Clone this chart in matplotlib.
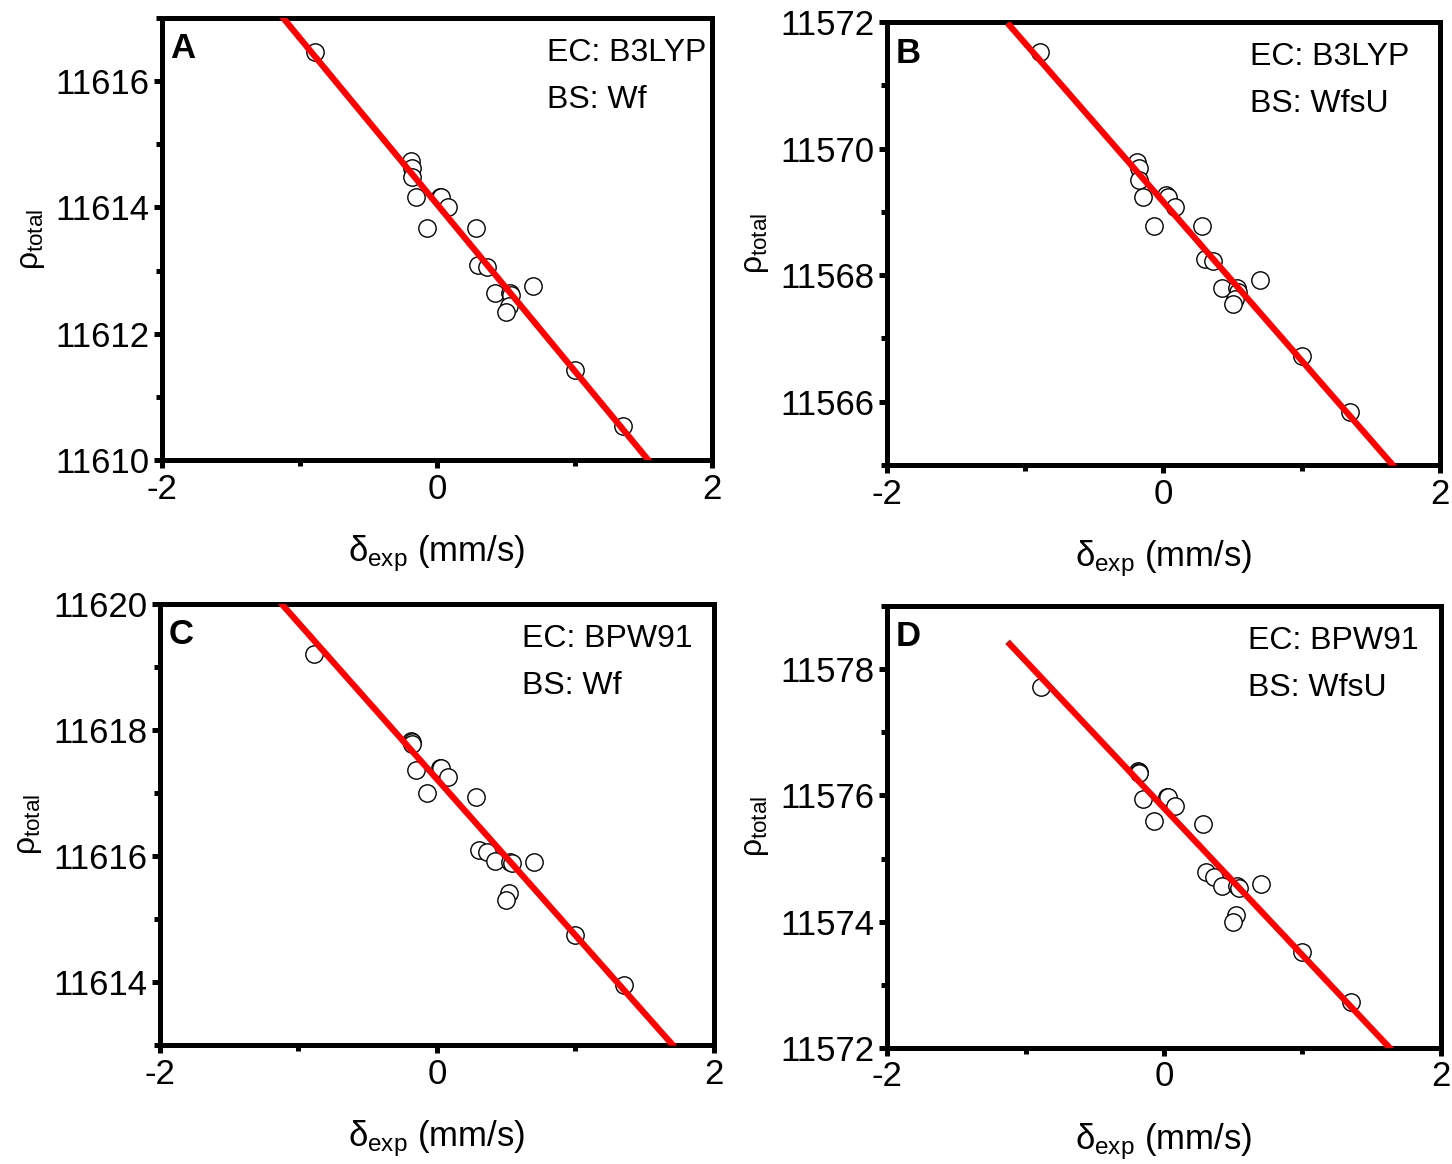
import numpy as np
import matplotlib
matplotlib.use("Agg")
import matplotlib.pyplot as plt
from matplotlib.ticker import MultipleLocator, ScalarFormatter

plt.rcParams['font.family'] = ['Liberation Sans', 'DejaVu Sans']
plt.rcParams['mathtext.fontset'] = 'custom'
plt.rcParams['mathtext.rm'] = 'Liberation Sans'
plt.rcParams['mathtext.it'] = 'Liberation Sans'
plt.rcParams['axes.unicode_minus'] = False

# experimental isomer shifts (mm/s), shared by all four panels
delta_exp = [-0.89, -0.19, -0.18, -0.18, -0.15, 0.02, 0.03, 0.08, -0.07, 0.28,
             0.30, 0.36, 0.42, 0.53, 0.54, 0.70, 0.52, 0.50, 1.00, 1.35]

rho_a = [11616.46, 11614.73, 11614.63, 11614.49, 11614.16, 11614.17, 11614.16,
         11614.01, 11613.68, 11613.68, 11613.09, 11613.06, 11612.64, 11612.64,
         11612.61, 11612.75, 11612.44, 11612.34, 11611.42, 11610.54]
rho_b = [11571.53, 11569.78, 11569.70, 11569.51, 11569.23, 11569.26, 11569.23,
         11569.07, 11568.77, 11568.77, 11568.25, 11568.22, 11567.80, 11567.80,
         11567.73, 11567.92, 11567.62, 11567.54, 11566.72, 11565.83]
rho_c = [11619.21, 11617.83, 11617.81, 11617.78, 11617.37, 11617.40, 11617.40,
         11617.25, 11617.00, 11616.94, 11616.10, 11616.06, 11615.92, 11615.90,
         11615.89, 11615.90, 11615.41, 11615.30, 11614.74, 11613.96]
rho_d = [11577.71, 11576.38, 11576.37, 11576.35, 11575.94, 11575.98, 11575.97,
         11575.83, 11575.59, 11575.54, 11574.78, 11574.71, 11574.57, 11574.57,
         11574.54, 11574.60, 11574.11, 11574.00, 11573.52, 11572.73]

# linear fits: (slope, intercept)
fit_a = (-2.637, 11614.05)
fit_b = (-2.506, 11569.155)
fit_c = (-2.479, 11617.22)
fit_d = (-2.331, 11575.80)
fit_x = [-1.13, 2.0]

letters = ['A', 'B', 'C', 'D']
ec_labels = ['EC: B3LYP', 'EC: B3LYP', 'EC: BPW91', 'EC: BPW91']
bs_labels = ['BS: Wf', 'BS: WfsU', 'BS: Wf', 'BS: WfsU']
ylims = [(11610, 11617), (11565, 11572), (11613, 11620), (11572, 11579)]

fig = plt.figure(figsize=(14.52, 11.64), dpi=100)
rects = [
    [0.1116, 0.6048, 0.3788, 0.3797],
    [0.6109, 0.6005, 0.3808, 0.3806],
    [0.1102, 0.1022, 0.3815, 0.3789],
    [0.6109, 0.0997, 0.3815, 0.3797],
]
text_x = [0.70, 0.656, 0.653, 0.652]

for i, (rect, rho, fit) in enumerate(zip(rects, [rho_a, rho_b, rho_c, rho_d],
                                           [fit_a, fit_b, fit_c, fit_d])):
    ax = fig.add_axes(rect)
    fx = np.array(fit_x)
    ax.plot(delta_exp, rho, 'o', ms=12.5, mfc='white', mec='black', mew=1.0,
            zorder=2)
    ax.plot(fx, fit[0] * fx + fit[1], color='#ff0000', lw=4.5, zorder=3,
            solid_capstyle='butt')
    ax.set_xlim(-2, 2)
    ax.set_ylim(*ylims[i])
    ax.xaxis.set_major_locator(MultipleLocator(2))
    ax.xaxis.set_minor_locator(MultipleLocator(1))
    ax.yaxis.set_major_locator(MultipleLocator(2))
    ax.yaxis.set_minor_locator(MultipleLocator(1))
    ax.yaxis.set_major_formatter(ScalarFormatter(useOffset=False))
    for s in ax.spines.values():
        s.set_linewidth(3.6)
    ax.tick_params(which='major', direction='out', length=6, width=3.6,
                   labelsize=25, pad=3)
    ax.tick_params(which='minor', direction='out', length=4, width=3.6)
    ax.tick_params(top=False, right=False, which='both')

    ax.set_xlabel(r'$\delta_{\mathrm{exp}}$ (mm/s)', fontsize=25)
    ax.xaxis.set_label_coords(0.5, -0.165)
    ax.set_ylabel(r'$\rho_{\mathrm{total}}$', fontsize=23)
    ax.yaxis.set_label_coords(-0.21, 0.5)

    ax.text(0.015, 0.93, letters[i], transform=ax.transAxes, fontsize=25,
            fontweight='bold', ha='left', va='center')
    ax.text(text_x[i], 0.92, ec_labels[i], transform=ax.transAxes,
            fontsize=23, ha='left', va='center')
    ax.text(text_x[i], 0.815, bs_labels[i], transform=ax.transAxes,
            fontsize=23, ha='left', va='center')

fig.savefig('out.png', dpi=100)
